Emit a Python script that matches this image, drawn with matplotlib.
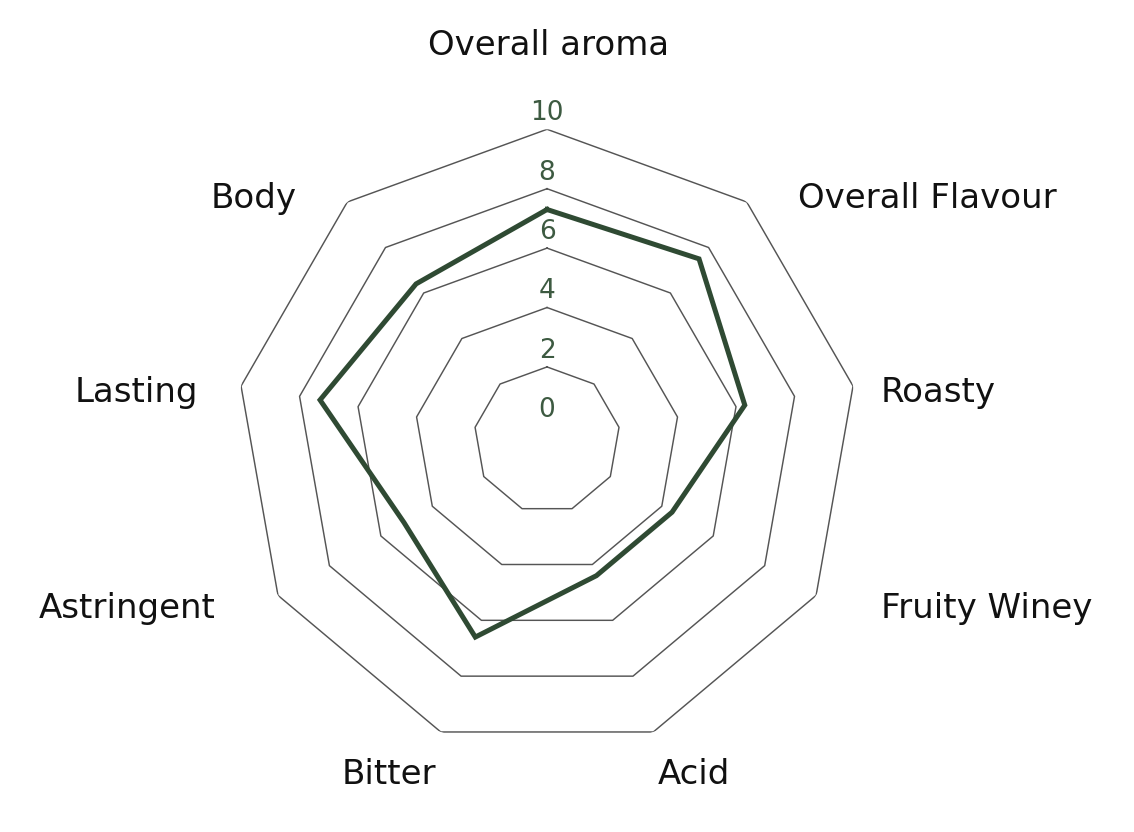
import numpy as np
import matplotlib
matplotlib.use("Agg")
import matplotlib.pyplot as plt

# --- data ---
categories = ["Overall aroma", "Overall Flavour", "Roasty", "Fruity Winey", "Acid",
              "Bitter", "Astringent", "Lasting", "Body"]
scores = [7.3, 7.5, 6.3, 4.4, 4.4, 6.6, 5.1, 7.3, 6.4]
ring_levels = [2, 4, 6, 8, 10]
tick_values = [0, 2, 4, 6, 8, 10]

# label layout: offset (px) from the outer ring vertex, and alignment
label_offsets = [(2, -74), (51, 6), (28, 16), (65, 23), (4, 52),
                 (-5, 52), (-62, 23), (-43, 16), (-51, 6)]
label_ha = ["center", "left", "left", "left", "left",
            "right", "right", "right", "right"]

line_col = "#2f4a33"
tick_col = "#3d5a41"
grid_col = "#555555"

plt.rcParams["font.family"] = ["DejaVu Sans"]

fig = plt.figure(figsize=(11.34, 8.32), dpi=100)
ax = fig.add_axes([0.2084, 0.0977, 0.548, 0.7469], projection="polar")
ax.set_theta_offset(np.pi / 2)
ax.set_theta_direction(-1)
ax.set_ylim(-0.46, 10)
ax.grid(False)
ax.set_xticks([])
ax.set_yticks([])
ax.spines["polar"].set_visible(False)
ax.patch.set_alpha(0)

n = len(categories)
theta = np.arange(n) * 2 * np.pi / n
closed = np.append(theta, theta[0])

# nonagon grid
for lvl in ring_levels:
    ax.plot(closed, [lvl] * (n + 1), color=grid_col, lw=1.05, zorder=1)

# data polygon
vals = np.append(scores, scores[0])
ax.plot(closed, vals, color=line_col, lw=3.6, solid_joinstyle="miter", zorder=3)

# radial tick labels
for v in tick_values:
    ax.annotate(str(v), xy=(0, v), xytext=(0, 6.5), textcoords="offset points",
                ha="center", va="baseline", fontsize=19, color=tick_col,
                annotation_clip=False, zorder=4)

# category labels
for t, name, (dx, dy), ha in zip(theta, categories, label_offsets, label_ha):
    ax.annotate(name, xy=(t, 10), xytext=(dx * 0.72, -dy * 0.72),
                textcoords="offset points", ha=ha, va="baseline",
                fontsize=24.5, color="#111111", annotation_clip=False)

fig.savefig("out.png", dpi=100)
